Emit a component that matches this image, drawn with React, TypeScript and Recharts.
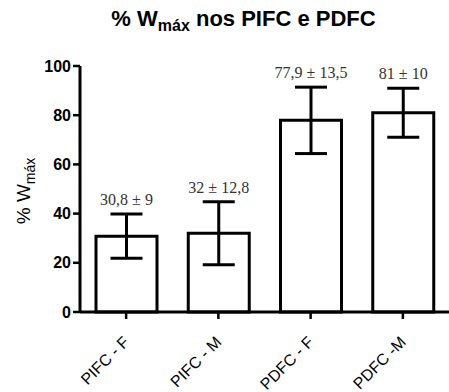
import { BarChart, Bar, XAxis, YAxis, ErrorBar, LabelList } from 'recharts';

const groups = ['PIFC - F', 'PIFC - M', 'PDFC - F', 'PDFC -M'];
const means = [30.8, 32, 77.9, 81];
const sds = [9, 12.8, 13.5, 10];
const labels = ['30,8 ± 9', '32 ± 12,8', '77,9 ± 13,5', '81 ± 10'];
const yTicks = [0, 20, 40, 60, 80, 100];

const data = groups.map((g, i) => ({ name: g, mean: means[i], sd: sds[i], label: labels[i] }));

const W = 449;
const H = 392;

function XTick(props: any) {
  const { x, y, payload } = props;
  const tx = x + 4;
  const ty = y + 22;
  return (
    <text
      x={tx}
      y={ty}
      transform={`rotate(-45, ${tx}, ${ty})`}
      textAnchor="end"
      fill="#000"
      fontFamily="Arial, 'Liberation Sans', sans-serif"
      fontSize={16}
    >
      {payload.value}
    </text>
  );
}

function YLabel() {
  const cx = 30;
  const cy = 191;
  return (
    <text
      x={cx}
      y={cy}
      transform={`rotate(-90, ${cx}, ${cy})`}
      textAnchor="middle"
      fill="#000"
      fontFamily="Arial, 'Liberation Sans', sans-serif"
      fontSize={19}
    >
      % W<tspan fontSize={14} dy={5}>máx</tspan>
    </text>
  );
}

function TopLabel(props: any) {
  const { x, y, width, height, index } = props;
  const d = data[index];
  const pxPerUnit = height / d.mean;
  const top = y - d.sd * pxPerUnit;
  return (
    <text
      x={x + width / 2}
      y={top - 9}
      textAnchor="middle"
      fill="#333"
      fontFamily="'Times New Roman', 'Liberation Serif', serif"
      fontSize={16}
    >
      {d.label}
    </text>
  );
}

export default function App() {
  return (
    <div style={{ position: 'absolute', left: 0, top: 0, width: W, height: H, background: '#fff' }}>
      <div
        style={{
          position: 'absolute',
          left: 0,
          top: 6,
          width: W,
          paddingLeft: 38,
          boxSizing: 'border-box',
          textAlign: 'center',
          fontFamily: "Arial, 'Liberation Sans', sans-serif",
          fontWeight: 'bold',
          fontSize: 22,
          color: '#000',
          zIndex: 1,
        }}
      >
        % W<sub style={{ fontSize: 16, verticalAlign: -5 }}>máx</sub> nos PIFC e PDFC
      </div>
      <BarChart
        width={W}
        height={H}
        data={data}
        margin={{ top: 66, right: 0, left: 2, bottom: 0 }}
        barSize={61}
      >
        <XAxis
          dataKey="name"
          tick={<XTick />}
          interval={0}
          axisLine={{ stroke: '#000', strokeWidth: 3 }}
          tickLine={{ stroke: '#000', strokeWidth: 2.5 }}
          tickSize={7}
          height={80}
        />
        <YAxis
          domain={[0, 100]}
          ticks={yTicks}
          interval={0}
          width={78}
          axisLine={{ stroke: '#000', strokeWidth: 3 }}
          tickLine={{ stroke: '#000', strokeWidth: 2.5 }}
          tickSize={7}
          tickMargin={2}
          tick={{ fill: '#000', fontSize: 16, fontWeight: 'bold', fontFamily: "Arial, 'Liberation Sans', sans-serif" }}
          label={<YLabel />}
        />
        <Bar dataKey="mean" fill="#fff" stroke="#000" strokeWidth={3} isAnimationActive={false}>
          <ErrorBar dataKey="sd" width={16} stroke="#000" strokeWidth={3} direction="y" />
          <LabelList dataKey="label" content={<TopLabel />} />
        </Bar>
      </BarChart>
    </div>
  );
}
